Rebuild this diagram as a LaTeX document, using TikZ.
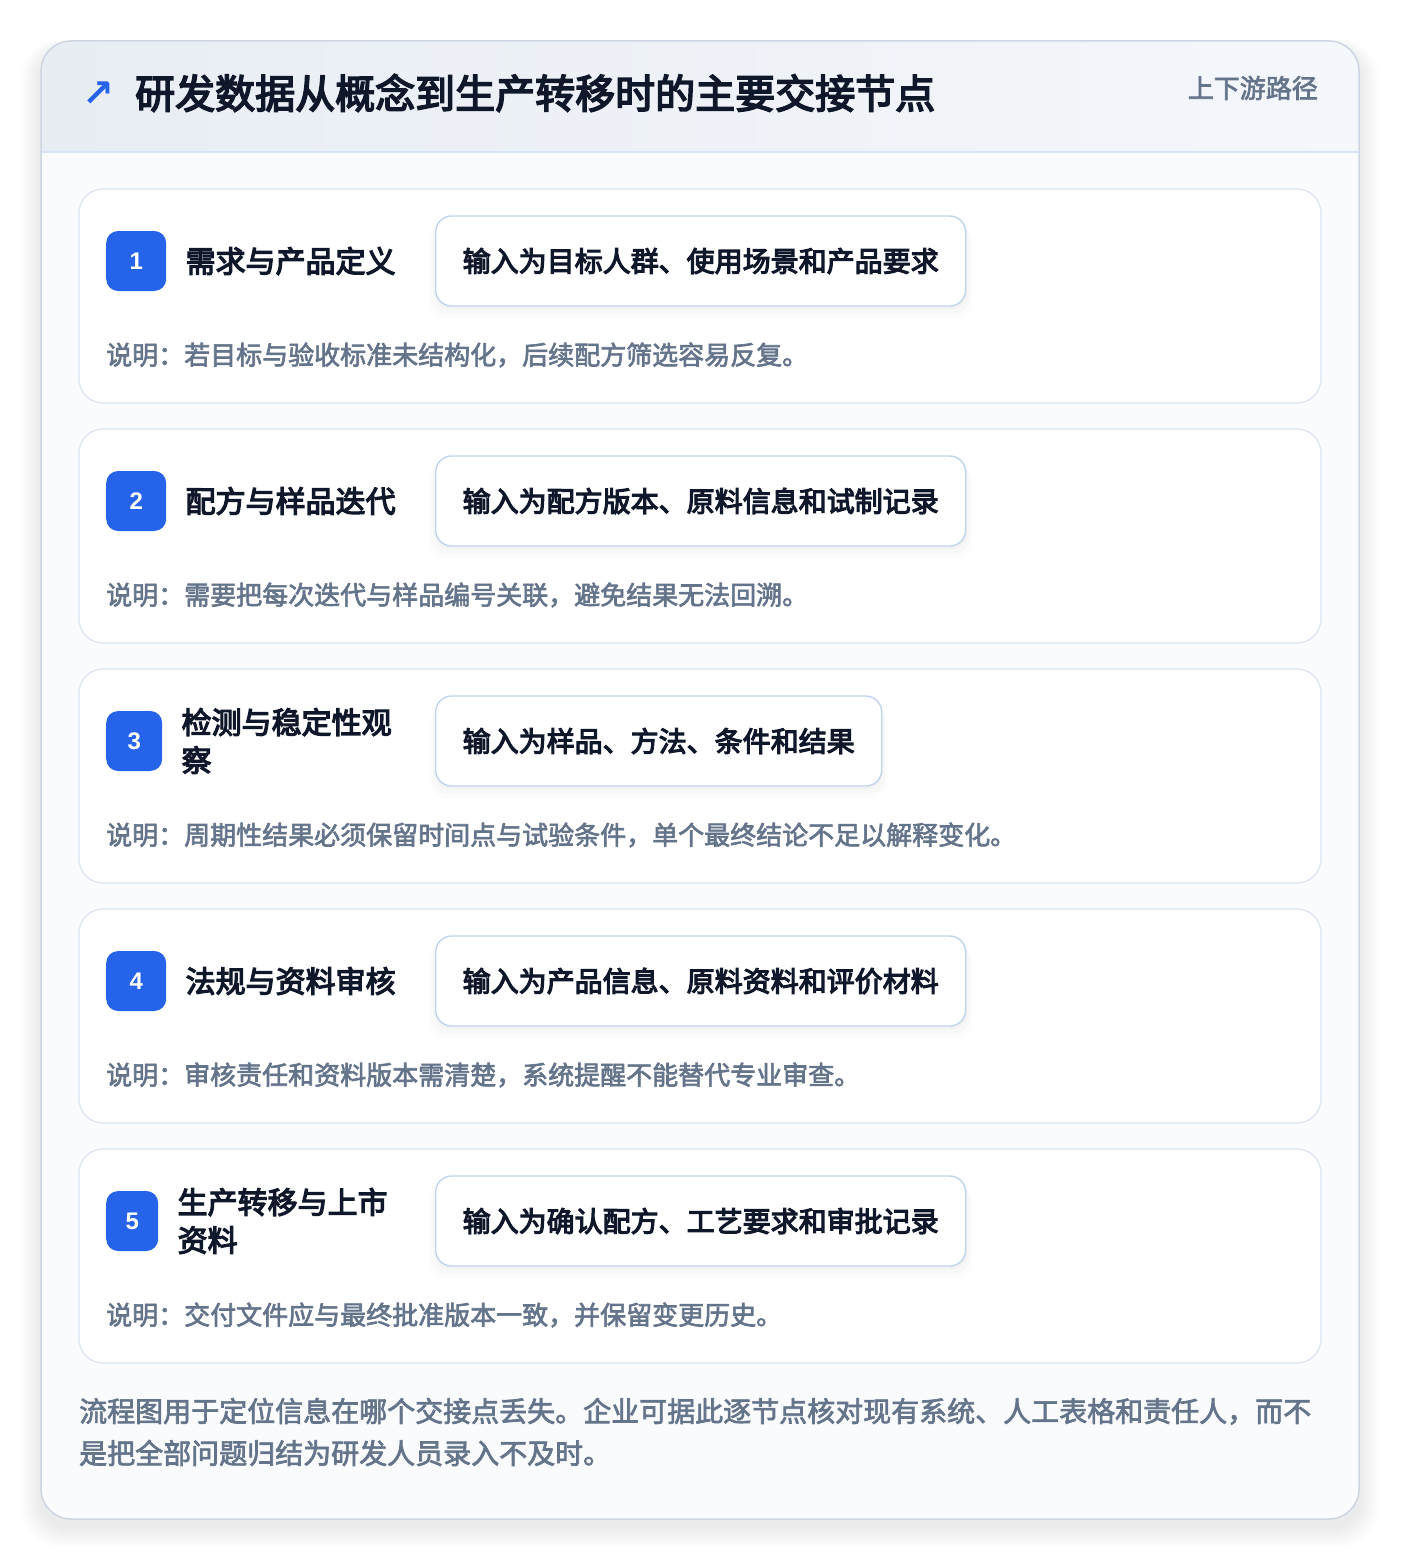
\documentclass[tikz,border=0pt]{standalone}
\usepackage{fontspec}
\setmainfont{Noto Sans CJK SC}
\newfontfamily\medfont[FakeBold=4]{Noto Sans CJK SC}
\newfontfamily\notefont[FakeBold=2.5]{Noto Sans CJK SC}
\newfontfamily\numfont{Liberation Sans}
\newfontfamily\arrowfont{DejaVu Sans}
\usetikzlibrary{positioning,shadows}

\definecolor{ink}{HTML}{0F172A}
\definecolor{muted}{HTML}{64748B}
\definecolor{accent}{HTML}{2563EB}
\definecolor{cardline}{HTML}{DBE6F4}
\definecolor{boxline}{HTML}{BFD4EE}
\definecolor{outerline}{HTML}{CDD6E2}
\definecolor{headl}{HTML}{E8EDF4}
\definecolor{headr}{HTML}{F4F7FB}
\definecolor{headline}{HTML}{D6E4F5}
\definecolor{bodyfill}{HTML}{FAFBFD}

\tikzset{
  stepcard/.style={draw=cardline, line width=1.3pt, fill=white, rounded corners=24pt,
    minimum width=1242pt, minimum height=214pt, inner sep=0pt},
  badge/.style={fill=accent, rounded corners=12pt, minimum height=60pt, inner sep=0pt,
    text=white, font=\numfont\fontsize{24}{24}\selectfont\bfseries},
  steptitle/.style={inner sep=0pt, align=left, text=ink,
    font=\medfont\fontsize{30}{38}\selectfont},
  inputbox/.style={draw=boxline, line width=1.4pt, fill=white, rounded corners=16pt,
    minimum height=90pt, inner xsep=27pt, text=ink,
    font=\medfont\fontsize{28}{28}\selectfont,
    drop shadow={shadow xshift=0pt, shadow yshift=-3pt, shadow scale=1.005, opacity=0.018, fill=black},
    drop shadow={shadow xshift=0pt, shadow yshift=-7pt, shadow scale=1.015, opacity=0.014, fill=black},
    drop shadow={shadow xshift=0pt, shadow yshift=-11pt, shadow scale=1.025, opacity=0.01, fill=black}},
  notetext/.style={anchor=west, inner sep=0pt, text=muted, font=\notefont\fontsize{26}{26}\selectfont}
}

\begin{document}
\begin{tikzpicture}[x=1pt,y=-1pt]
  \useasboundingbox (0,0) rectangle (1400,1560);
  \fill[white] (0,0) rectangle (1400,1560);
  % soft shadow of the outer card
  \foreach \k in {1,...,10}
    \fill[black, opacity=0.007, rounded corners=30pt+\k pt]
      (41-2*\k,41-\k+8) rectangle (1359+2*\k,1519+2*\k+8);
  % outer card with header
  \fill[bodyfill, rounded corners=30pt] (41,41) rectangle (1359,1519);
  \begin{scope}
    \clip[rounded corners=30pt] (41,41) rectangle (1359,1519);
    \fill[left color=headl, right color=headr] (41,41) rectangle (1359,152);
    \draw[headline, line width=1.3pt] (41,152) -- (1359,152);
  \end{scope}
  \draw[outerline, line width=1.5pt, rounded corners=30pt] (41,41) rectangle (1359,1519);

  \node[text=accent, font=\arrowfont\fontsize{38}{38}\selectfont\bfseries] (arrow) at (98,94) {↗};
  \node[anchor=west, inner sep=0pt, text=ink, font=\medfont\fontsize{40}{40}\selectfont]
    (title) at (135,93) {研发数据从概念到生产转移时的主要交接节点};
  \node[anchor=east, inner sep=0pt, text=muted, font=\notefont\fontsize{26}{26}\selectfont]
    (path) at (1318,88) {上下游路径};

  % the five steps
  \foreach \i/\ttl/\inp/\note/\bw in {
    1/{需求与产品定义}/{输入为目标人群、使用场景和产品要求}/{说明：若目标与验收标准未结构化，后续配方筛选容易反复。}/60,
    2/{配方与样品迭代}/{输入为配方版本、原料信息和试制记录}/{说明：需要把每次迭代与样品编号关联，避免结果无法回溯。}/60,
    3/{检测与稳定性观\\察}/{输入为样品、方法、条件和结果}/{说明：周期性结果必须保留时间点与试验条件，单个最终结论不足以解释变化。}/56,
    4/{法规与资料审核}/{输入为产品信息、原料资料和评价材料}/{说明：审核责任和资料版本需清楚，系统提醒不能替代专业审查。}/60,
    5/{生产转移与上市\\资料}/{输入为确认配方、工艺要求和审批记录}/{说明：交付文件应与最终批准版本一致，并保留变更历史。}/52}
  {
    \pgfmathsetmacro\cardtop{189+(\i-1)*240}
    \node[stepcard] (card\i) at (700,\cardtop+107) {};
    \node[badge, minimum width=\bw pt, anchor=west] (badge\i) at (106,\cardtop+72) {\i};
    \node[steptitle, right=19pt of badge\i] (name\i) {\ttl};
    \node[inputbox, anchor=west] (input\i) at (435,\cardtop+72) {\inp};
    \node[notetext] (note\i) at (106,\cardtop+166) {\note};
  }

  \node[anchor=west, inner sep=0pt, align=left, text=muted, font=\notefont\fontsize{28}{42}\selectfont]
    (summary) at (79,1432) {流程图用于定位信息在哪个交接点丢失。企业可据此逐节点核对现有系统、人工表格和责任人，而不\\是把全部问题归结为研发人员录入不及时。};
\end{tikzpicture}
\end{document}
